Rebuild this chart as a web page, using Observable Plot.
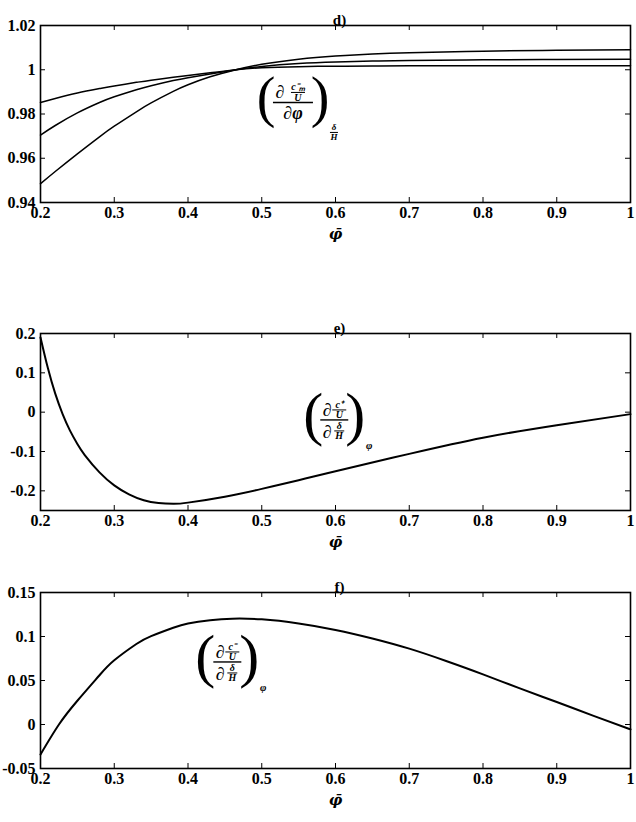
<!DOCTYPE html>
<html><head><meta charset="utf-8">
<script src="https://cdn.jsdelivr.net/npm/d3@7"></script>
<script src="https://cdn.jsdelivr.net/npm/@observablehq/plot@0.6"></script>
<style>
body{margin:0;background:#fff;}
#chart{width:636px;}
#chart svg{display:block;overflow:visible;}
</style></head><body><div id="chart"></div>
<script>
// ---- shared x axis ----
const xTicks = [0.2, 0.3, 0.4, 0.5, 0.6, 0.7, 0.8, 0.9, 1];
const xTickLabels = ["0.2", "0.3", "0.4", "0.5", "0.6", "0.7", "0.8", "0.9", "1"];
const xLabel = "\u03C6\u0304";

// ---- panel d ----
const dTitle = "d)";
const dPhi = [0.2, 0.22, 0.25, 0.28, 0.3, 0.33, 0.35, 0.38, 0.4, 0.43, 0.465, 0.5, 0.55, 0.6, 0.65, 0.7, 0.8, 0.9, 1.0];
const dCurveA = [0.9852, 0.9870, 0.9895, 0.9915, 0.9927, 0.9943, 0.9953, 0.9966, 0.9974, 0.9986, 1.0000, 1.0009, 1.0014, 1.0016, 1.0017, 1.0018, 1.0018, 1.0018, 1.0018];
const dCurveB = [0.9705, 0.9748, 0.9805, 0.9852, 0.9878, 0.9910, 0.9928, 0.9951, 0.9964, 0.9981, 1.0000, 1.0015, 1.0028, 1.0035, 1.0039, 1.0042, 1.0045, 1.0046, 1.0047];
const dCurveC = [0.9485, 0.9540, 0.9620, 0.9697, 0.9745, 0.9810, 0.9850, 0.9902, 0.9932, 0.9968, 1.0000, 1.0025, 1.0048, 1.0062, 1.0071, 1.0077, 1.0084, 1.0088, 1.0090];
const dYTicks = [1.02, 1, 0.98, 0.96, 0.94];
const dYTickLabels = ["1.02", "1", "0.98", "0.96", "0.94"];

// ---- panel e ----
const eTitle = "e)";
const ePhi = [0.2, 0.21, 0.22, 0.23, 0.24, 0.25, 0.26, 0.28, 0.3, 0.32, 0.34, 0.36, 0.38, 0.4, 0.45, 0.5, 0.55, 0.6, 0.7, 0.8, 0.9, 1.0];
const eCurve = [0.19, 0.112, 0.047, -0.005, -0.047, -0.081, -0.109, -0.153, -0.186, -0.209, -0.224, -0.231, -0.233, -0.230, -0.215, -0.195, -0.173, -0.150, -0.106, -0.065, -0.033, -0.005];
const eYTicks = [0.2, 0.1, 0, -0.1, -0.2];
const eYTickLabels = ["0.2", "0.1", "0", "-0.1", "-0.2"];

// ---- panel f ----
const fTitle = "f)";
const fPhi = [0.2, 0.225, 0.25, 0.28, 0.3, 0.33, 0.35, 0.38, 0.4, 0.43, 0.46, 0.5, 0.55, 0.6, 0.65, 0.7, 0.75, 0.8, 0.85, 0.9, 0.95, 1.0];
const fCurve = [-0.034, 0.0, 0.027, 0.056, 0.073, 0.0915, 0.1005, 0.1100, 0.1148, 0.1185, 0.1203, 0.1195, 0.1148, 0.1075, 0.0978, 0.0862, 0.0722, 0.057, 0.041, 0.0255, 0.0098, -0.0055];
const fYTicks = [0.15, 0.1, 0.05, 0, -0.05];
const fYTickLabels = ["0.15", "0.1", "0.05", "0", "-0.05"];

const FONT = "Liberation Serif";
const W = 636, ML = 40, MR = 6;

function panel({xs, series, yDomain, yTicks, yTickLabels, title, height, marginTop, marginBottom, strokeWidth}) {
  const innerH = height - marginTop - marginBottom;
  const innerW = W - ML - MR;
  const xMap = new Map(xTicks.map((t, i) => [t, xTickLabels[i]]));
  const yMap = new Map(yTicks.map((t, i) => [t, yTickLabels[i]]));
  const lines = series.map(ys => Plot.line(xs.map((x, i) => ({x, y: ys[i]})),
    {x: "x", y: "y", stroke: "black", strokeWidth, curve: "natural"}));
  return Plot.plot({
    width: W, height, marginLeft: ML, marginRight: MR, marginTop, marginBottom,
    style: {fontFamily: FONT, fontSize: "16px", fontWeight: "bold", background: "white", color: "black", overflow: "visible"},
    x: {domain: [0.2, 1]},
    y: {domain: yDomain},
    marks: [
      ...lines,
      Plot.frame({stroke: "black", strokeWidth: 1.6}),
      Plot.tickX(xTicks, {x: d => d, insetTop: innerH - 5, stroke: "black"}),
      Plot.tickX(xTicks, {x: d => d, insetBottom: innerH - 5, stroke: "black"}),
      Plot.tickY(yTicks, {y: d => d, insetRight: innerW - 5, stroke: "black"}),
      Plot.tickY(yTicks, {y: d => d, insetLeft: innerW - 5, stroke: "black"}),
      Plot.axisX({ticks: xTicks, tickFormat: d => xMap.get(d), tickSize: 0, tickPadding: 4, label: null,
        fontFamily: FONT, fontSize: 16, fontWeight: "bold"}),
      Plot.axisY({ticks: yTicks, tickFormat: d => yMap.get(d), tickSize: 0, tickPadding: 5, label: null,
        fontFamily: FONT, fontSize: 16, fontWeight: "bold"}),
      Plot.text([title], {frameAnchor: "top", lineAnchor: "bottom", dx: 4, dy: -1, fontSize: 15, fontWeight: "bold", fontFamily: FONT}),
      Plot.text([xLabel], {frameAnchor: "bottom", dy: 36, fontSize: 15, fontStyle: "italic", fontWeight: "bold", fontFamily: "DejaVu Serif"})
    ]
  });
}

function txt(g, x, y, s, size, opts = {}) {
  return g.append("text").attr("x", x).attr("y", y).attr("text-anchor", opts.anchor || "middle")
    .attr("font-size", size).attr("font-style", opts.italic === false ? "normal" : "italic")
    .attr("font-weight", opts.weight || "bold").text(s);
}
function bar(g, x1, x2, y, sw) {
  g.append("line").attr("x1", x1).attr("x2", x2).attr("y1", y).attr("y2", y).attr("stroke", "black").attr("stroke-width", sw);
}
function stack(g, x, yBar, top, bottom, size, barW) {
  txt(g, x, yBar - 2, top, size);
  bar(g, x - barW / 2, x + barW / 2, yBar, 1);
  txt(g, x, yBar + size * 0.82, bottom, size);
}

function drawLabel(svg, cfg) {
  const cx = svg.scale("x").apply(cfg.x), cy = svg.scale("y").apply(cfg.y);
  const g = d3.select(svg).append("g").attr("font-family", FONT).attr("fill", "black");
  const ps = cfg.parenSize;
  txt(g, cx - cfg.parenGap, cy + 0.235 * ps, "(", ps, {italic: false, weight: "normal"});
  txt(g, cx + cfg.parenGap, cy + 0.235 * ps, ")", ps, {italic: false, weight: "normal"});
  bar(g, cx - cfg.barHalf, cx + cfg.barHalf, cy, 1.4);
  txt(g, cx - cfg.numD, cy - 4, "\u2202", 18);
  stack(g, cx + cfg.numS, cy - 10, cfg.numTop, "U", 10, 14);
  if (cfg.denPhi) {
    txt(g, cx, cy + 17, "\u2202\u03C6", 18);
  } else {
    txt(g, cx - cfg.numD, cy + 18, "\u2202", 18);
    stack(g, cx + cfg.numS, cy + 11, "\u03B4", "H", 10, 10);
  }
  if (cfg.subPhi) {
    txt(g, cx + cfg.parenGap + 14, cy + 29, "\u03C6", 11);
  } else {
    stack(g, cx + cfg.parenGap + 14, cy + 30, "\u03B4", "H", 9, 8);
  }
}

const root = document.getElementById("chart");

const pd = panel({xs: dPhi, series: [dCurveA, dCurveB, dCurveC], yDomain: [0.94, 1.02], yTicks: dYTicks, yTickLabels: dYTickLabels,
  title: dTitle, height: 290, marginTop: 25, marginBottom: 88, strokeWidth: 1.5});
root.appendChild(pd);
drawLabel(pd, {x: 0.543, y: 0.985, parenSize: 56, parenGap: 27, barHalf: 20, numD: 13, numS: 5, numTop: "c\u207B\u2098", denPhi: true, subPhi: false});

const pe = panel({xs: ePhi, series: [eCurve], yDomain: [-0.25, 0.2], yTicks: eYTicks, yTickLabels: eYTickLabels,
  title: eTitle, height: 270, marginTop: 43, marginBottom: 50, strokeWidth: 2});
root.appendChild(pe);
drawLabel(pe, {x: 0.599, y: -0.021, parenSize: 60, parenGap: 21, barHalf: 14, numD: 7, numS: 5, numTop: "c\u207A", denPhi: false, subPhi: true});

const pf = panel({xs: fPhi, series: [fCurve], yDomain: [-0.05, 0.15], yTicks: fYTicks, yTickLabels: fYTickLabels,
  title: fTitle, height: 262, marginTop: 32, marginBottom: 54, strokeWidth: 2});
root.appendChild(pf);
drawLabel(pf, {x: 0.454, y: 0.0705, parenSize: 60, parenGap: 22, barHalf: 14, numD: 7, numS: 5, numTop: "c\u207B", denPhi: false, subPhi: true});
</script></body></html>
